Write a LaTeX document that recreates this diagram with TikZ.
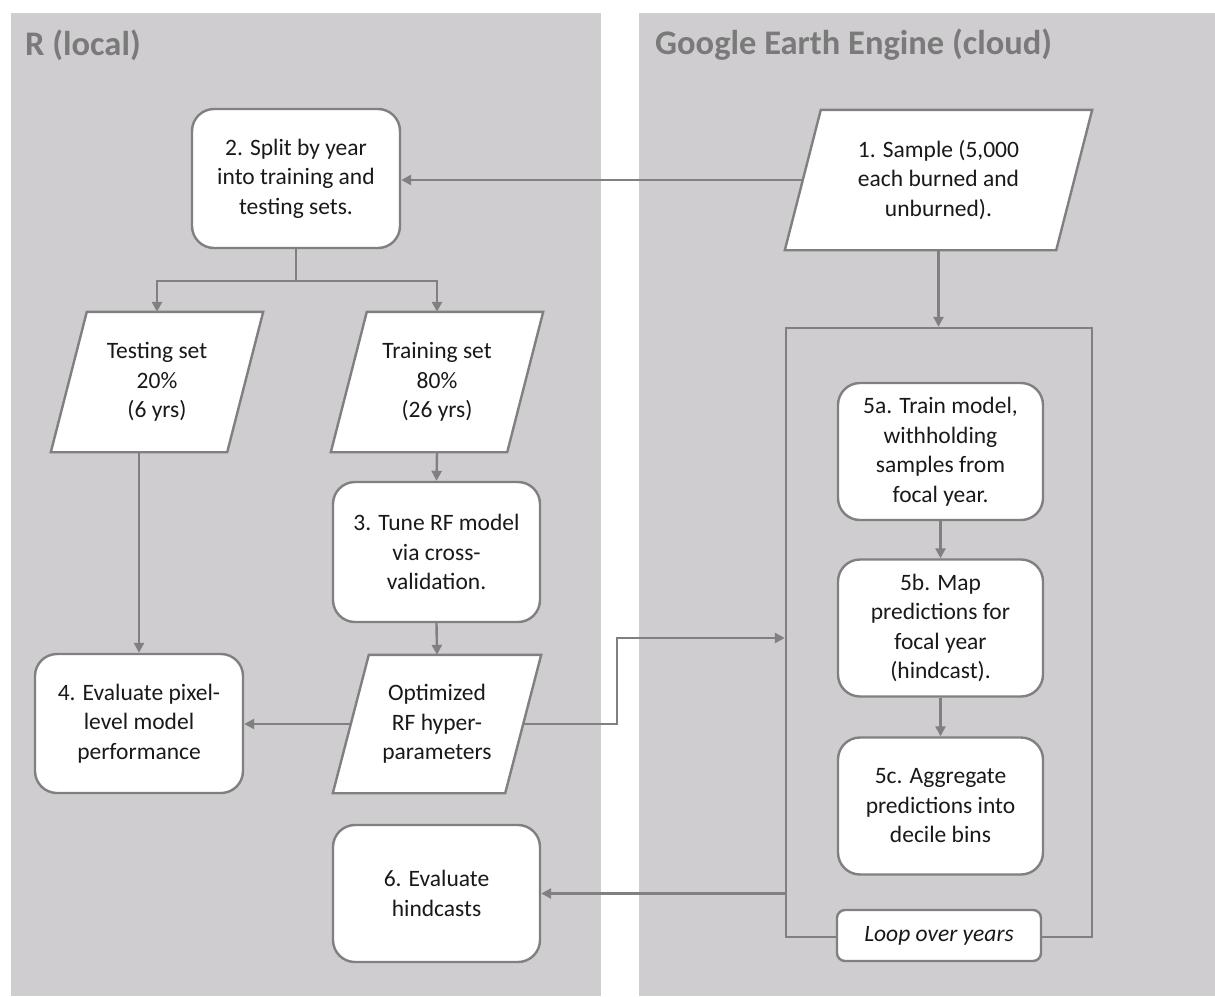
\documentclass[tikz,border=0pt]{standalone}
\usepackage{fontspec}
\setmainfont{Carlito}
\usetikzlibrary{arrows.meta,backgrounds}
\definecolor{panel}{RGB}{207,205,207}
\definecolor{ln}{RGB}{128,128,128}
\definecolor{ttl}{RGB}{122,122,122}
\definecolor{tx}{RGB}{25,25,25}
\newcommand\drawpara[1]{\path[parashape] ([xshift=18pt]#1.north west) -- ([xshift=18pt]#1.north east) -- ([xshift=-18pt]#1.south east) -- ([xshift=-18pt]#1.south west) -- cycle;}
\begin{document}
\begin{tikzpicture}[x=1pt,y=-1pt,
  txt/.style={align=center, inner sep=0pt, text=tx, font=\fontsize{23.5}{29.5}\selectfont},
  box/.style={txt, draw=ln, line width=2.4pt, fill=white, rounded corners=22pt},
  parabox/.style={txt},
  parashape/.style={draw=ln, fill=white, line width=2.4pt, line join=miter},
  frame/.style={draw=ln, line width=2.4pt, inner sep=0pt},
  loopbox/.style={txt, draw=ln, line width=2.4pt, fill=white, rounded corners=8pt, font=\fontsize{23.5}{29.5}\selectfont\itshape},
  ttlstyle/.style={anchor=west, inner sep=0pt, text=ttl, font=\fontsize{34.5}{40}\selectfont\bfseries},
  arr/.style={draw=ln, line width=2.4pt, -{Triangle[length=10pt,width=10pt]}},
  conn/.style={draw=ln, line width=2.4pt}]
\useasboundingbox (0,0) rectangle (1215,996);
\begin{scope}[on background layer]
  \fill[panel] (11,13) rectangle (601,996);
  \fill[panel] (639,13) rectangle (1215,996);
\end{scope}
\node[ttlstyle] (tl) at (25,45) {R (local)};
\node[ttlstyle] (tr) at (655,45) {Google Earth Engine (cloud)};

\node[box, minimum width=208pt, minimum height=139pt] (n2) at (296,178.5) {2. Split by year\\into training and\\testing sets.};
\node[parabox, minimum width=271pt, minimum height=140pt] (n1) at (938.5,180) {1. Sample (5,000\\each burned and\\unburned).};
\node[parabox, minimum width=176pt, minimum height=140pt] (test) at (157,382) {Testing set\\20\%\\(6 yrs)};
\node[parabox, minimum width=176pt, minimum height=140pt] (train) at (437,382) {Training set\\80\%\\(26 yrs)};
\node[box, minimum width=207pt, minimum height=140pt] (n3) at (436.5,552) {3. Tune RF model\\via cross-\\validation.};
\node[parabox, minimum width=172pt, minimum height=138pt] (opt) at (437,724) {Optimized\\RF hyper-\\parameters};
\node[box, minimum width=208pt, minimum height=139pt] (n4) at (139,723.5) {4. Evaluate pixel-\\level model\\performance};
\node[box, minimum width=207pt, minimum height=137pt] (n6) at (436.5,893.5) {6. Evaluate\\hindcasts};

\node[frame, minimum width=306pt, minimum height=609pt] (lp) at (939,632.5) {};
\node[box, minimum width=205pt, minimum height=137pt] (n5a) at (940.5,451.5) {5a. Train model,\\withholding\\samples from\\focal year.};
\node[box, minimum width=205pt, minimum height=137pt] (n5b) at (940.5,628) {5b. Map\\predictions for\\focal year\\(hindcast).};
\node[box, minimum width=205pt, minimum height=137pt] (n5c) at (940.5,806) {5c. Aggregate\\predictions into\\decile bins};
\node[loopbox, minimum width=204pt, minimum height=51pt] (loop) at (939,935.5) {Loop over years};

\begin{scope}[on background layer]
  \drawpara{n1}
  \drawpara{test}
  \drawpara{train}
  \drawpara{opt}
\end{scope}

\coordinate (bend) at (617,638);
\coordinate (split) at (296,281);
\draw[conn] (n2.south) -- (split);
\draw[arr] (split) -| (test.north);
\draw[arr] (split) -| (train.north);
\draw[arr] (n1.west) -- (n1.west -| n2.east);
\draw[arr] (test.south -| n4.north) -- (n4.north);
\draw[arr] (train.south) -- (n3.north);
\draw[arr] (n3.south) -- (opt.north);
\draw[arr] (opt.west) -- (opt.west -| n4.east);
\draw[arr] (opt.east) -| (bend) -- (lp.west |- bend);
\draw[arr] (n1.south) -- (n1.south |- lp.north);
\draw[arr] (n5a.south) -- (n5b.north);
\draw[arr] (n5b.south) -- (n5c.north);
\draw[arr] (lp.west |- n6.east) -- (n6.east);
\end{tikzpicture}
\end{document}
